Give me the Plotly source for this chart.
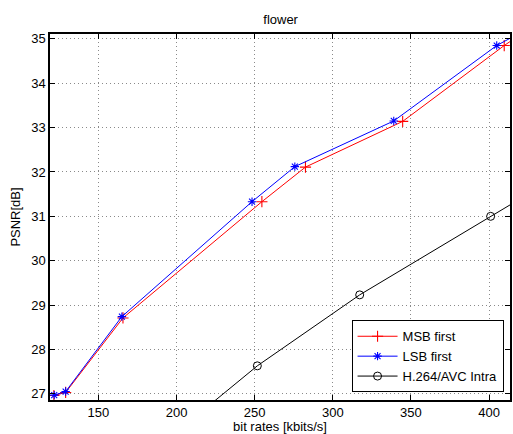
import plotly.graph_objects as go

# Data
msb_rate = [121.5, 129.0, 165.7, 254.6, 282.5, 344.7, 409.7, 418.0]
msb_psnr = [26.96, 27.03, 28.71, 31.33, 32.11, 33.14, 34.85, 35.05]

lsb_rate = [121.7, 129.0, 165.0, 248.3, 275.7, 339.0, 404.9, 418.0]
lsb_psnr = [26.97, 27.05, 28.74, 31.33, 32.12, 33.15, 34.85, 35.10]

h264_rate = [205.0, 251.7, 317.2, 401.0, 470.0]
h264_psnr = [26.28, 27.63, 29.23, 31.00, 32.45]

x_ticks = [150, 200, 250, 300, 350, 400]
y_ticks = [27, 28, 29, 30, 31, 32, 33, 34, 35]

font_family = "Liberation Sans, Arial, Helvetica, sans-serif"
fs = 13

fig = go.Figure()
fig.add_trace(go.Scatter(
    x=msb_rate, y=msb_psnr, mode="lines+markers", name="MSB first",
    line=dict(color="#ff0000", width=1),
    marker=dict(symbol="cross-thin-open", size=8, color="#ff0000",
                line=dict(color="#ff0000", width=1.1)),
))
fig.add_trace(go.Scatter(
    x=lsb_rate, y=lsb_psnr, mode="lines+markers", name="LSB first",
    line=dict(color="#0000ff", width=1),
    marker=dict(symbol="asterisk-open", size=7, color="#0000ff",
                line=dict(color="#0000ff", width=1.1)),
))
fig.add_trace(go.Scatter(
    x=h264_rate, y=h264_psnr, mode="lines+markers", name="H.264/AVC Intra",
    line=dict(color="#000000", width=1),
    marker=dict(symbol="circle-open", size=8, color="#000000",
                line=dict(color="#000000", width=1)),
))

axis_common = dict(
    showline=True, linecolor="black", linewidth=1.5, mirror="ticks",
    ticks="inside", ticklen=5, tickcolor="black", tickwidth=1,
    showgrid=True, gridcolor="#8a8a8a", griddash="1px,3px", gridwidth=1,
    zeroline=False,
    tickfont=dict(family=font_family, size=fs, color="black"),
)

fig.update_xaxes(
    range=[119, 413.4], tickvals=x_ticks,
    title=dict(text="bit rates [kbits/s]", standoff=3,
               font=dict(family=font_family, size=fs, color="black")),
    **axis_common,
)
fig.update_yaxes(
    range=[26.86, 35.11], tickvals=y_ticks,
    title=dict(text="PSNR[dB]", standoff=8,
               font=dict(family=font_family, size=fs, color="black")),
    **axis_common,
)

fig.update_layout(
    width=513, height=434,
    margin=dict(l=50, r=1, t=34, b=34),
    paper_bgcolor="white", plot_bgcolor="white",
    title=dict(text="flower", x=0.547, xanchor="center", y=0.956, yanchor="middle",
               font=dict(family=font_family, size=fs, color="black")),
    showlegend=True,
    legend=dict(
        x=0.986, y=0.021, xanchor="right", yanchor="bottom",
        bgcolor="white", bordercolor="black", borderwidth=1,
        font=dict(family=font_family, size=fs, color="black"),
        itemwidth=40, tracegroupgap=0,
    ),
)

fig.write_html(
    "out.html",
    config={"displayModeBar": False},
    post_script="document.body.style.margin='0';document.body.style.overflow='hidden';",
)
